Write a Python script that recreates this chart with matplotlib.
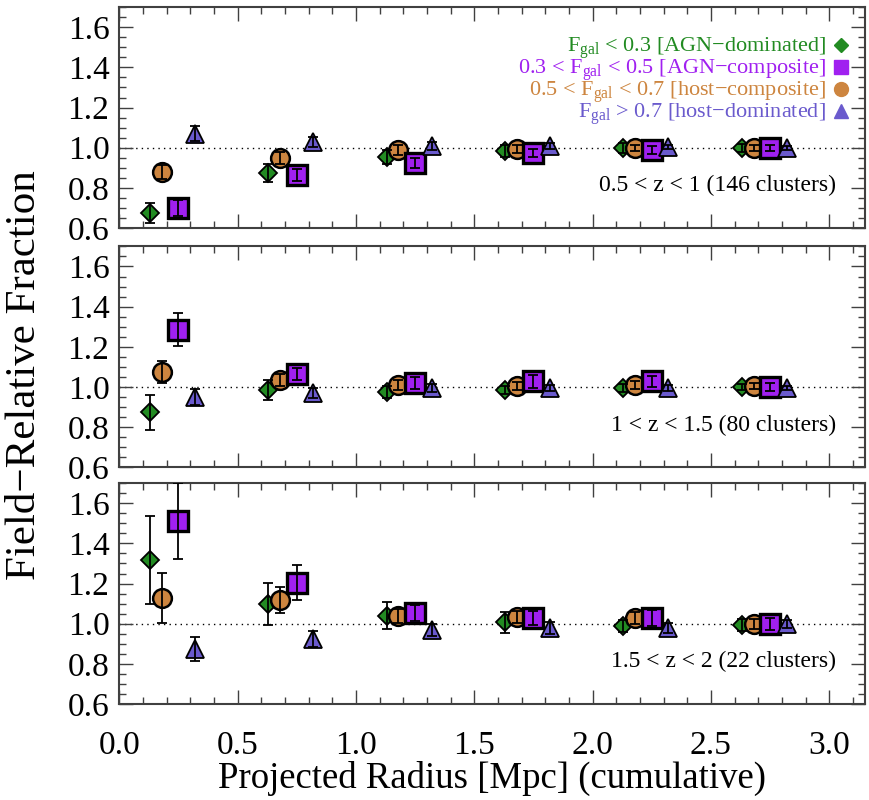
import numpy as np
import matplotlib
matplotlib.use('Agg')
import matplotlib.pyplot as plt
from matplotlib.ticker import MultipleLocator

plt.rcParams['font.family'] = ['Liberation Serif', 'DejaVu Serif']
plt.rcParams['mathtext.fontset'] = 'custom'
plt.rcParams['mathtext.rm'] = 'Liberation Serif'
plt.rcParams['mathtext.it'] = 'Liberation Serif:italic'

# cumulative radius bins [Mpc]
radius = np.array([0.25, 0.75, 1.25, 1.75, 2.25, 2.75])

z_labels = ['0.5 < z < 1 (146 clusters)',
            '1 < z < 1.5 (80 clusters)',
            '1.5 < z < 2 (22 clusters)']

# field-relative fractions, one row per redshift panel
frac_agn_dom = [[0.675, 0.873, 0.953, 0.982, 0.998, 1.000],
                [0.873, 0.985, 0.977, 0.985, 0.993, 1.000],
                [1.317, 1.098, 1.040, 1.007, 0.990, 0.995]]
err_agn_dom = [[0.048, 0.045, 0.035, 0.030, 0.025, 0.020],
               [0.088, 0.050, 0.030, 0.020, 0.020, 0.015],
               [0.220, 0.105, 0.067, 0.053, 0.030, 0.030]]

frac_agn_comp = [[0.698, 0.865, 0.923, 0.973, 0.987, 1.000],
                 [1.285, 1.065, 1.018, 1.027, 1.027, 1.000],
                 [1.512, 1.203, 1.053, 1.030, 1.030, 1.000]]
err_agn_comp = [[0.040, 0.030, 0.025, 0.020, 0.020, 0.015],
                [0.083, 0.030, 0.030, 0.030, 0.025, 0.020],
                [0.190, 0.087, 0.040, 0.035, 0.040, 0.030]]

frac_host_comp = [[0.877, 0.948, 0.990, 0.993, 0.998, 1.000],
                  [1.075, 1.035, 1.010, 1.005, 1.010, 1.005],
                  [1.128, 1.120, 1.037, 1.033, 1.028, 0.998]]
err_host_comp = [[0.035, 0.030, 0.025, 0.020, 0.015, 0.015],
                 [0.055, 0.030, 0.025, 0.020, 0.020, 0.015],
                 [0.125, 0.065, 0.035, 0.030, 0.030, 0.025]]

frac_host_dom = [[1.070, 1.027, 1.007, 1.010, 1.003, 1.000],
                 [0.952, 0.972, 0.993, 0.995, 0.995, 0.995],
                 [0.875, 0.923, 0.970, 0.978, 0.978, 0.997]]
err_host_dom = [[0.037, 0.025, 0.020, 0.015, 0.010, 0.010],
                [0.040, 0.025, 0.020, 0.015, 0.015, 0.010],
                [0.060, 0.040, 0.030, 0.030, 0.025, 0.020]]

legend_labels = [r'F$_{\rm gal}$ < 0.3 [AGN−dominated]',
                 r'0.3 < F$_{\rm gal}$ < 0.5 [AGN−composite]',
                 r'0.5 < F$_{\rm gal}$ < 0.7 [host−composite]',
                 r'F$_{\rm gal}$ > 0.7 [host−dominated]']

# style per class: (frac, err, colour, marker, size, edge width, x offset)
classes = [
    (frac_agn_dom, err_agn_dom, '#228B22', 'D', 9.5, 1.3, -0.12),
    (frac_host_comp, err_host_comp, '#CD853F', 'o', 13.5, 1.8, -0.07),
    (frac_agn_comp, err_agn_comp, '#A020F0', 's', 14.5, 2.4, 0.0),
    (frac_host_dom, err_host_dom, '#6A5ACD', '^', 13.5, 1.3, 0.07),
]
legend_style = [('#228B22', 'D', 7.5), ('#A020F0', 's', 10),
                ('#CD853F', 'o', 10), ('#6A5ACD', '^', 10)]

fig = plt.figure(figsize=(8.7, 8.0), dpi=100)
boxes = [[0.137, 0.715, 0.857, 0.276],
         [0.137, 0.416, 0.857, 0.276],
         [0.137, 0.120, 0.857, 0.276]]
axis_col = '0.25'

for p in range(3):
    ax = fig.add_axes(boxes[p])
    ax.axhline(1.0, color='k', ls=(0, (1, 3)), lw=1.0, zorder=1)
    for frac, err, col, mk, ms, mew, off in classes:
        xx = radius + off
        ax.plot(xx, frac[p], ls='none', marker=mk, ms=ms, mfc=col,
                mec='k', mew=mew, zorder=3)
        ax.errorbar(xx, frac[p], yerr=err[p], fmt='none', ecolor='k',
                    elinewidth=1.3, capsize=3.5, capthick=1.3, zorder=4)
    ax.text(3.03, 0.81, z_labels[p], ha='right', va='center', fontsize=17)

    ax.set_xlim(0, 3.15)
    ax.set_ylim(0.6, 1.7)
    ax.xaxis.set_major_locator(MultipleLocator(0.5))
    ax.xaxis.set_minor_locator(MultipleLocator(0.1))
    ax.yaxis.set_major_locator(MultipleLocator(0.2))
    ax.yaxis.set_minor_locator(MultipleLocator(0.05))
    ax.tick_params(which='both', direction='in', top=True, right=True,
                   color=axis_col, width=1.0, labelsize=24, pad=7)
    ax.tick_params(axis='x', which='both', pad=19)
    ax.tick_params(which='major', length=10)
    ax.tick_params(which='minor', length=5)
    ax.yaxis.set_major_formatter(plt.FormatStrFormatter('%.1f'))
    for s in ax.spines.values():
        s.set_color(axis_col)
        s.set_linewidth(1.5)
    if p < 2:
        ax.tick_params(labelbottom=False)
    else:
        ax.xaxis.set_major_formatter(plt.FormatStrFormatter('%.1f'))
        ax.set_xlabel('Projected Radius [Mpc] (cumulative)', fontsize=26.5,
                      labelpad=0)

    if p == 0:
        base = [1.476, 1.366, 1.256, 1.146]
        for i in range(4):
            col, mk, ms = legend_style[i]
            ax.text(2.985, base[i], legend_labels[i], color=col, ha='right',
                    va='baseline', fontsize=16)
            ax.plot([3.05], [base[i] + 0.035], ls='none', marker=mk, ms=ms,
                    mfc=col, mec=col, zorder=3)

fig.text(0.028, 0.531, 'Field−Relative Fraction', rotation=90, ha='center',
         va='center', fontsize=31)

fig.savefig('out.png', dpi=100)
